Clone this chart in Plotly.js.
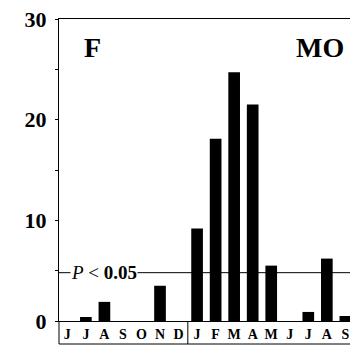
<!DOCTYPE html>
<html>
<head>
<meta charset="utf-8">
<script src="https://cdn.plot.ly/plotly-3.0.1.min.js"></script>
<style>html,body{margin:0;padding:0;background:#fff;}#chart{width:350px;height:346px;}</style>
</head>
<body>
<div id="chart"></div>
<script>
// Categories (two consecutive years, June to September of the next year)
var categories = ['Jun1','Jul1','Aug1','Sep1','Oct1','Nov1','Dec1','Jan2','Feb2','Mar2','Apr2','May2','Jun2','Jul2','Aug2','Sep2'];
var monthLetters = ['J','J','A','S','O','N','D','J','F','M','A','M','J','J','A','S'];
var values = [0, 0.4, 1.9, 0, 0, 3.5, 0, 9.2, 18.1, 24.7, 21.5, 5.5, 0, 0.9, 6.2, 0.5];
var threshold = 4.8;
var yTicks = [0, 10, 20, 30];
var yTickText = ['0', '10', '20', '30'];

var serif = 'Liberation Serif, Times New Roman, serif';

var trace = {
  type: 'bar',
  x: categories,
  y: values,
  marker: {color: '#000', line: {width: 0}},
  hoverinfo: 'skip'
};

var boxBottom = -23 / 302;
var divider = (6.5 + 0.45) / 15.7;

var layout = {
  width: 350, height: 346,
  margin: {l: 59, r: 0, t: 19, b: 25, pad: 0},
  paper_bgcolor: '#fff', plot_bgcolor: '#fff',
  showlegend: false,
  bargap: 0.37,
  xaxis: {
    type: 'category',
    range: [-0.45, 15.25],
    tickvals: categories,
    ticktext: monthLetters,
    ticks: '',
    showgrid: false, zeroline: false,
    showline: true, mirror: true, linecolor: '#000', linewidth: 1,
    tickfont: {family: serif, size: 14, color: '#000', weight: 700},
    fixedrange: true
  },
  yaxis: {
    range: [0, 30],
    tickvals: yTicks,
    ticktext: yTickText,
    ticks: 'outside', ticklen: 3, tickwidth: 1, tickcolor: '#000',
    minor: {tickvals: [5, 15, 25], ticks: 'outside', ticklen: 3, tickcolor: '#000'},
    ticklabelstandoff: 4,
    showgrid: false, zeroline: false,
    showline: true, linecolor: '#000', linewidth: 1,
    tickfont: {family: serif, size: 22, color: '#000', weight: 700},
    fixedrange: true
  },
  shapes: [
    {type: 'line', xref: 'paper', yref: 'y', x0: 0, x1: 1, y0: threshold, y1: threshold,
     line: {color: '#000', width: 1}, layer: 'below'},
    {type: 'line', xref: 'paper', yref: 'paper', x0: 0, x1: 1, y0: boxBottom, y1: boxBottom,
     line: {color: '#000', width: 1}},
    {type: 'line', xref: 'paper', yref: 'paper', x0: 0, x1: 0, y0: 0, y1: boxBottom,
     line: {color: '#000', width: 1}},
    {type: 'line', xref: 'paper', yref: 'paper', x0: divider, x1: divider, y0: 0, y1: boxBottom,
     line: {color: '#000', width: 1}}
  ],
  annotations: [
    {xref: 'paper', yref: 'y', x: 11 / 291, y: threshold, xanchor: 'left', yanchor: 'middle',
     text: '<i>P</i> < <b>0.05</b>', showarrow: false, bgcolor: '#fff', borderpad: 0,
     font: {family: serif, size: 19, color: '#000'}},
    {xref: 'paper', yref: 'paper', x: 23 / 291, y: 0.905, xanchor: 'left', yanchor: 'middle',
     text: '<b>F</b>', showarrow: false, font: {family: serif, size: 28, color: '#000'}},
    {xref: 'paper', yref: 'paper', x: 235 / 291, y: 0.905, xanchor: 'left', yanchor: 'middle',
     text: '<b>MO</b>', showarrow: false, font: {family: serif, size: 28, color: '#000'}}
  ]
};

Plotly.newPlot('chart', [trace], layout, {staticPlot: true, displayModeBar: false});
</script>
</body>
</html>
